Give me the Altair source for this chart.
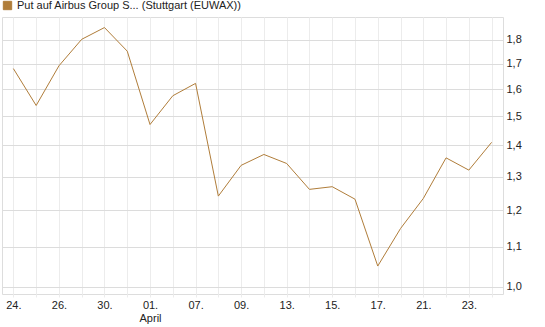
import altair as alt
import pandas as pd

series_name = "Put auf Airbus Group S... (Stuttgart (EUWAX))"
date_labels = ["24.", "25.", "26.", "27.", "30.", "31.", "01.", "02.", "07.", "08.", "09.",
               "10.", "13.", "14.", "15.", "16.", "17.", "20.", "21.", "22.", "23.", "24."]
values = [1.680, 1.539, 1.691, 1.801, 1.852, 1.751, 1.471, 1.575, 1.622, 1.241, 1.335,
          1.370, 1.341, 1.261, 1.269, 1.232, 1.051, 1.149, 1.234, 1.359, 1.320, 1.410]
y_ticks = [1.0, 1.1, 1.2, 1.3, 1.4, 1.5, 1.6, 1.7, 1.8]

df = pd.DataFrame({"idx": list(range(len(values))), "date": date_labels,
                   "value": values, "series": series_name})

lbl_items = []
for i, d in enumerate(date_labels):
    if i % 2 == 1:
        lbl_items.append("''")
    elif i == 6:
        lbl_items.append("['%s','April']" % d)
    else:
        lbl_items.append("'%s'" % d)
label_expr = "[" + ",".join(lbl_items) + "][datum.value]"

FONT = "Liberation Sans"

chart = alt.Chart(df).mark_line(strokeWidth=1, clip=True).encode(
    x=alt.X("idx:Q",
            scale=alt.Scale(domain=[-0.5, len(values) - 0.5], nice=False, zero=False),
            axis=alt.Axis(values=list(range(len(values))), labelExpr=label_expr,
                          title=None, grid=True, gridColor="#ececec", ticks=True,
                          tickColor="#ececec", tickSize=3, domain=False,
                          labelFont=FONT, labelFontSize=11, labelColor="#222",
                          labelPadding=2, labelLineHeight=13, labelOverlap=False)),
    y=alt.Y("value:Q",
            scale=alt.Scale(type="log", domain=[0.9835, 1.899], nice=False, zero=False),
            axis=alt.Axis(orient="right", values=y_ticks,
                          labelExpr="replace(format(datum.value, '.1f'), '.', ',')",
                          title=None, grid=True, gridColor="#dcdcdc", ticks=False,
                          domain=False, labelFont=FONT, labelFontSize=11,
                          labelColor="#222", labelPadding=3)),
    color=alt.Color("series:N", scale=alt.Scale(range=["#b07d3a"]),
                    legend=alt.Legend(title=None, orient="none", legendX=0, legendY=-17,
                                      symbolType="square", symbolSize=70,
                                      symbolFillColor="#b07d3a", symbolStrokeColor="#444",
                                      symbolStrokeWidth=1, labelFont=FONT,
                                      labelFontSize=11, labelColor="#222",
                                      labelLimit=0, padding=0, labelOffset=4)),
).properties(
    width=501, height=277,
    autosize=alt.AutoSizeParams(type="none"),
    padding={"left": 2, "top": 17, "right": 42, "bottom": 33},
).configure_view(stroke="#d4d4d4").configure(background="white")

chart.save("out.html", embed_options={"renderer": "svg", "actions": False})
